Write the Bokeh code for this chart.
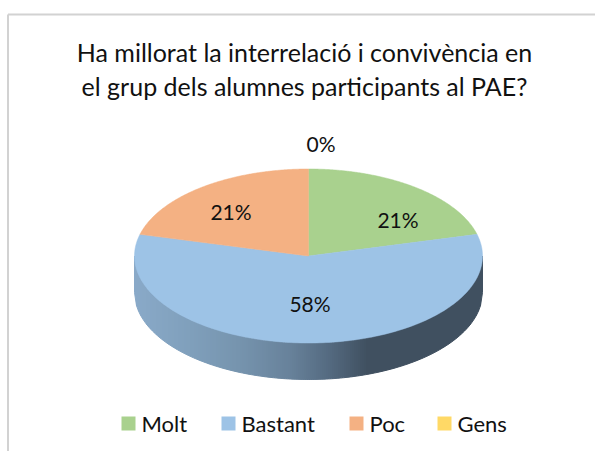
import numpy as np
from bokeh.plotting import figure
from bokeh.models import Range1d
from bokeh.core.properties import value
from bokeh.embed import file_html
from bokeh.resources import INLINE

# ---- data ----
title_lines = ["Ha millorat la interrelació i convivència en", "el grup dels alumnes participants al PAE?"]
categories = ["Molt", "Bastant", "Poc", "Gens"]
values = [21, 58, 21, 0]
colors = ["#A9D18E", "#9DC3E6", "#F4B183", "#FFD966"]

# ---- layout (page pixels) ----
FONT = value("Lato")
CX, CY, RX, RY, DEPTH = 308, 255.5, 174, 87, 36.5
label_x = [397.5, 309.5, 230.5, 320.5]
label_y = [218.5, 302.5, 210.5, 142.5]
swatch_x = [121, 221, 349, 437]
legend_text_x = [141, 241, 369, 457]
LEG_Y = 423

W, H = 595, 451
p = figure(width=W, height=H, output_backend="svg", toolbar_location=None,
           x_range=Range1d(0, W), y_range=Range1d(H, 0), min_border=0,
           outline_line_color=None, background_fill_color="white")
p.axis.visible = False
p.grid.visible = False

# chart frame (left and top edges only are in view)
p.segment([7.5, 7.5], [14, 14], [W, 7.5], [14, H], line_color="#D2D2D2", line_width=2)

# side wall with horizontal shading
xs = np.linspace(CX - RX, CX + RX, 175)
stops_x = [CX - RX, 190, 240, 290, 330, 368, CX + RX]
stops = np.array([[0x8A, 0xAA, 0xC9], [0x80, 0xA0, 0xBC], [0x76, 0x94, 0xAE], [0x68, 0x82, 0x9B],
                  [0x54, 0x6A, 0x80], [0x40, 0x50, 0x60], [0x40, 0x50, 0x60]])
sx, sy, sc = [], [], []
for a, b in zip(xs[:-1], xs[1:]):
    ua, ub = (a - CX) / RX, (b - CX) / RX
    ya, yb = CY + RY * np.sqrt(max(0, 1 - ua**2)), CY + RY * np.sqrt(max(0, 1 - ub**2))
    sx.append([a, b, b, a])
    sy.append([ya, yb, yb + DEPTH, ya + DEPTH])
    m = (a + b) / 2
    c = [int(np.interp(m, stops_x, stops[:, i])) for i in range(3)]
    sc.append("#%02X%02X%02X" % tuple(c))
p.patches(sx, sy, fill_color=sc, line_color=sc, line_width=1)

# top face
total = sum(values)
start = 0.0
for v, col in zip(values, colors):
    end = start + v / total * 2 * np.pi
    if v > 0:
        t = np.linspace(start, end, 200)
        px = np.r_[CX, CX + RX * np.sin(t)]
        py = np.r_[CY, CY - RY * np.cos(t)]
        p.patch(px, py, fill_color=col, line_color=col, line_width=0.5)
    start = end

# data labels
p.text(label_x, label_y, text=[f"{v}%" for v in values], text_font=FONT, text_font_size="21px",
       text_color="#111111", text_align="center", text_baseline="middle")

# title
p.text([304, 304], [51, 85], text=title_lines, text_font=FONT, text_font_size="25px",
       text_color="#111111", text_align="center", text_baseline="middle")

# legend
p.rect([x + 7 for x in swatch_x], [LEG_Y] * 4, width=14, height=14, fill_color=colors, line_color=None)
p.text(legend_text_x, [LEG_Y] * 4, text=categories, text_font=FONT, text_font_size="22px",
       text_color="#111111", text_align="left", text_baseline="middle")

open("out.html", "w").write(file_html(p, INLINE))
